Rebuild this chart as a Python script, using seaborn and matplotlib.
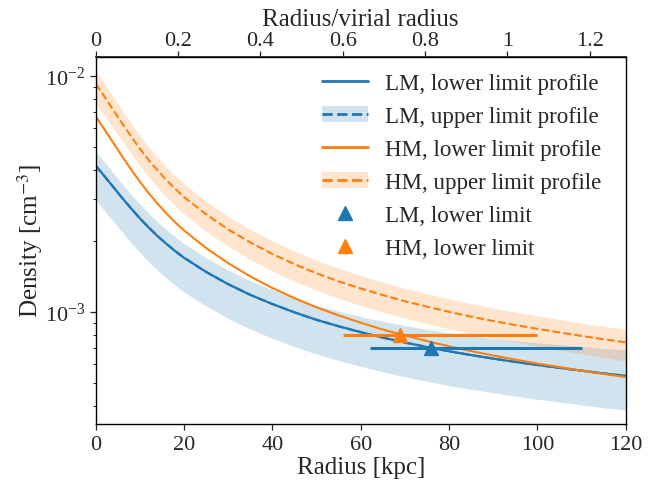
import matplotlib
matplotlib.use("Agg")
import matplotlib.pyplot as plt
import seaborn as sns
import numpy as np
import pandas as pd
from matplotlib.lines import Line2D
from matplotlib.patches import Patch
from matplotlib.ticker import FixedLocator, FuncFormatter

sns.set_theme(style="ticks")
plt.rcParams["font.family"] = ["Liberation Serif", "DejaVu Serif"]
plt.rcParams["mathtext.fontset"] = "stix"
plt.rcParams["font.size"] = 16
plt.rcParams["xtick.labelsize"] = 16
plt.rcParams["ytick.labelsize"] = 16
plt.rcParams["axes.labelsize"] = 18
plt.rcParams["legend.fontsize"] = 16.5
plt.rcParams["xtick.major.size"] = 4.2
plt.rcParams["ytick.major.size"] = 4.2
plt.rcParams["ytick.minor.size"] = 2.4
plt.rcParams["xtick.major.width"] = 0.9
plt.rcParams["ytick.major.width"] = 0.9
plt.rcParams["ytick.minor.width"] = 0.7

BLUE = "#1f77b4"
ORANGE = "#ff7f0e"
R_VIR = 93.2  # kpc

# radius grid [kpc]
radius = [0, 2, 4, 6, 8, 10, 12, 14, 16, 18, 20, 25, 30, 35, 40, 45, 50, 55, 60,
          65, 70, 75, 80, 85, 90, 95, 100, 105, 110, 115, 120]

# log10 density [cm^-3]
lm_lower_log = [-2.381, -2.426, -2.472, -2.518, -2.562, -2.604, -2.643, -2.679, -2.712, -2.743,
                -2.771, -2.831, -2.883, -2.928, -2.967, -3.002, -3.034, -3.061, -3.086, -3.109,
                -3.130, -3.149, -3.167, -3.183, -3.198, -3.212, -3.225, -3.237, -3.249, -3.261, -3.271]
lm_upper_log = [-2.381, -2.426, -2.472, -2.518, -2.562, -2.604, -2.643, -2.679, -2.712, -2.743,
                -2.771, -2.831, -2.883, -2.928, -2.967, -3.002, -3.034, -3.061, -3.086, -3.109,
                -3.130, -3.149, -3.167, -3.183, -3.198, -3.212, -3.225, -3.237, -3.249, -3.261, -3.271]
lm_band_hi_log = [-2.321, -2.366, -2.412, -2.458, -2.502, -2.544, -2.583, -2.619, -2.652, -2.683,
                  -2.711, -2.771, -2.823, -2.868, -2.907, -2.942, -2.972, -2.997, -3.020, -3.040,
                  -3.058, -3.074, -3.089, -3.101, -3.112, -3.122, -3.131, -3.139, -3.147, -3.155, -3.161]
lm_band_lo_log = [-2.526, -2.571, -2.617, -2.663, -2.707, -2.749, -2.788, -2.824, -2.857, -2.888,
                  -2.916, -2.976, -3.028, -3.073, -3.112, -3.147, -3.179, -3.206, -3.231, -3.254,
                  -3.275, -3.294, -3.312, -3.328, -3.343, -3.357, -3.370, -3.382, -3.394, -3.406, -3.416]

hm_lower_log = [-2.172, -2.228, -2.285, -2.342, -2.397, -2.449, -2.497, -2.542, -2.583, -2.621,
                -2.655, -2.730, -2.794, -2.850, -2.899, -2.942, -2.981, -3.015, -3.046, -3.075,
                -3.100, -3.124, -3.146, -3.166, -3.185, -3.202, -3.219, -3.234, -3.249, -3.263, -3.276]
hm_upper_log = [-2.034, -2.089, -2.146, -2.202, -2.257, -2.309, -2.357, -2.401, -2.442, -2.479,
                -2.514, -2.587, -2.651, -2.706, -2.755, -2.798, -2.837, -2.871, -2.901, -2.929,
                -2.955, -2.978, -3.000, -3.020, -3.039, -3.056, -3.072, -3.087, -3.102, -3.116, -3.129]
hm_band_hi_log = [-1.979, -2.034, -2.091, -2.147, -2.202, -2.254, -2.302, -2.346, -2.387, -2.424,
                  -2.459, -2.532, -2.596, -2.651, -2.700, -2.743, -2.782, -2.816, -2.846, -2.874,
                  -2.900, -2.923, -2.945, -2.965, -2.984, -3.001, -3.017, -3.032, -3.047, -3.061, -3.074]
hm_band_lo_log = [-2.119, -2.170, -2.223, -2.275, -2.329, -2.381, -2.429, -2.473, -2.514, -2.551,
                  -2.586, -2.659, -2.723, -2.778, -2.827, -2.870, -2.909, -2.943, -2.973, -3.001,
                  -3.027, -3.050, -3.072, -3.092, -3.111, -3.128, -3.144, -3.161, -3.178, -3.194, -3.209]

# lower limits: radius, density, radial range (minus, plus)
lm_limit_r = [76]
lm_limit_n = [7.0e-4]
lm_limit_xerr = [[14], [34]]
hm_limit_r = [69]
hm_limit_n = [8.0e-4]
hm_limit_xerr = [[13], [31]]

x_ticks = [0, 20, 40, 60, 80, 100, 120]
top_ticks = [0, 0.2, 0.4, 0.6, 0.8, 1.0, 1.2]

df = pd.DataFrame({
    "radius": radius,
    "lm_lower": 10 ** np.array(lm_lower_log),
    "lm_upper": 10 ** np.array(lm_upper_log),
    "lm_hi": 10 ** np.array(lm_band_hi_log),
    "lm_lo": 10 ** np.array(lm_band_lo_log),
    "hm_lower": 10 ** np.array(hm_lower_log),
    "hm_upper": 10 ** np.array(hm_upper_log),
    "hm_hi": 10 ** np.array(hm_band_hi_log),
    "hm_lo": 10 ** np.array(hm_band_lo_log),
})

fig, ax = plt.subplots(figsize=(6.57, 4.81), dpi=100)
fig.subplots_adjust(left=0.1457, right=0.9524, bottom=0.1164, top=0.8794)

ax.fill_between(df["radius"], df["lm_lo"], df["lm_hi"], color=BLUE, alpha=0.2, linewidth=0)
ax.fill_between(df["radius"], df["hm_lo"], df["hm_hi"], color=ORANGE, alpha=0.2, linewidth=0)

sns.lineplot(data=df, x="radius", y="lm_lower", ax=ax, color=BLUE, lw=1.6)
sns.lineplot(data=df, x="radius", y="lm_upper", ax=ax, color=BLUE, lw=1.6, linestyle="--")
sns.lineplot(data=df, x="radius", y="hm_lower", ax=ax, color=ORANGE, lw=1.5)
sns.lineplot(data=df, x="radius", y="hm_upper", ax=ax, color=ORANGE, lw=1.5, linestyle="--")

ax.errorbar(hm_limit_r, hm_limit_n, xerr=hm_limit_xerr, fmt="^", color=ORANGE,
            ms=10, elinewidth=2.2, capsize=0, zorder=5)
ax.errorbar(lm_limit_r, lm_limit_n, xerr=lm_limit_xerr, fmt="^", color=BLUE,
            ms=10, elinewidth=2.2, capsize=0, zorder=5)

ax.set_yscale("log")
ax.set_xlim(0, 120)
ax.set_ylim(3.35e-4, 1.2e-2)
ax.set_xticks(x_ticks)
ax.set_xlabel("Radius [kpc]", labelpad=2)
ax.set_ylabel("Density [cm$^{-3}$]", labelpad=0)
ax.tick_params(axis="both", which="both", direction="out", right=False, top=False)

top = ax.secondary_xaxis("top", functions=(lambda r: r / R_VIR, lambda f: f * R_VIR))
top.xaxis.set_major_locator(FixedLocator(top_ticks))
top.xaxis.set_major_formatter(FuncFormatter(lambda v, p: f"{v:g}"))
top.tick_params(pad=1.2)
top.set_xlabel("Radius/virial radius", labelpad=4)

for sp in ax.spines.values():
    sp.set_linewidth(1.0)
    sp.set_color("black")

handles = [
    Line2D([], [], color=BLUE, lw=2),
    (Patch(facecolor=BLUE, alpha=0.2, linewidth=0), Line2D([], [], color=BLUE, lw=2, ls="--")),
    Line2D([], [], color=ORANGE, lw=2),
    (Patch(facecolor=ORANGE, alpha=0.2, linewidth=0), Line2D([], [], color=ORANGE, lw=2, ls="--")),
    Line2D([], [], color=BLUE, marker="^", ms=10, ls="none"),
    Line2D([], [], color=ORANGE, marker="^", ms=10, ls="none"),
]
labels = [
    "LM, lower limit profile",
    "LM, upper limit profile",
    "HM, lower limit profile",
    "HM, upper limit profile",
    "LM, lower limit",
    "HM, lower limit",
]
ax.legend(handles, labels, loc="upper right", bbox_to_anchor=(0.985, 1.0), frameon=False,
          handlelength=2.0, labelspacing=0.52, borderaxespad=0.3, handletextpad=0.75)

fig.savefig("out.png", dpi=100)
